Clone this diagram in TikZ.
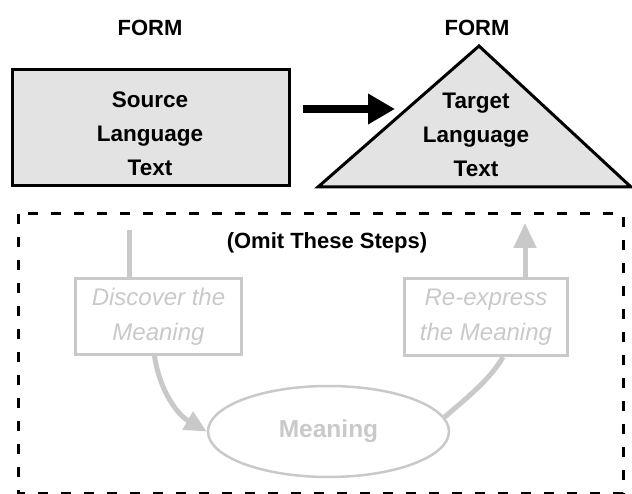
\documentclass[tikz,border=0pt]{standalone}
\usepackage{fontspec}
\setmainfont{Liberation Sans}
\usetikzlibrary{arrows.meta,shapes.geometric}
\newcommand{\formfill}{black!11}
\newcommand{\skipped}{black!21}
\tikzset{
  formlabel/.style = {font=\fontsize{22}{34}\selectfont\bfseries},
  formtext/.style = {align=center, font=\fontsize{22.5}{34}\selectfont\bfseries},
  stepbox/.style = {draw=\skipped, line width=3pt, text=\skipped, align=center,
                    font=\fontsize{24}{35}\selectfont\itshape},
  skiparrow/.style = {draw=\skipped, line width=5pt},
  omitbox/.style = {draw, line width=3pt, dash pattern=on 10pt off 13pt}
}

\begin{document}
\begin{tikzpicture}[x=1pt, y=-1pt]
        \useasboundingbox (0,0) rectangle (632,494);
        % source side
        \node[formlabel] (formL) at (150,28) {FORM};
        \node[draw, line width=3pt, fill=\formfill, minimum width=277pt, minimum height=116pt] (src) at (150.5,128) {};
        \node[formtext] (srctext) at (150,134) {Source\\Language\\Text};
        % target side
        \coordinate (apex) at (479,46);
        \coordinate (baseL) at (318,187);
        \coordinate (baseR) at (631,187);
        \filldraw[fill=\formfill, line width=3pt, line join=miter] (apex) -- (baseL) -- (baseR) -- cycle;
        \node[formlabel] (formR) at (477,28) {FORM};
        \node[formtext] (tgt) at (476,135) {Target\\Language\\Text};
        \coordinate (arrS) at (303,109);
        \coordinate (arrE) at (395,109);
        \draw[line width=8pt, -{Triangle[length=27pt, width=29pt]}] (arrS) -- (arrE);
        % the steps that are left out
        \draw[omitbox] (18,214) rectangle (623,493);
        \node[formlabel] (omit) at (327,243) {(Omit These Steps)};
        \node[stepbox, minimum width=166pt, minimum height=76pt] (discover) at (158.5,316.5) {Discover the\\Meaning};
        \node[stepbox, minimum width=163pt, minimum height=77pt] (reexpress) at (486,317) {Re-express\\the Meaning};
        \node[ellipse, draw=\skipped, line width=2.5pt, minimum width=241pt, minimum height=91pt,
              text=\skipped, font=\fontsize{24.5}{30}\selectfont\bfseries] (meaning) at (328.5,431.5) {Meaning};
        \coordinate (in) at (129,230);
        \coordinate (out) at (525,223);
        \draw[skiparrow] (in) -- (in |- discover.north);
        \draw[skiparrow, -{Triangle[length=22pt, width=20pt]}] ([xshift=-4pt]discover.south)
            .. controls (160,392) and (178,415) .. (meaning.west);
        \draw[skiparrow] (meaning.7) .. controls (463,401) and (490,380) .. ([xshift=17pt]reexpress.south);
        \draw[skiparrow, -{Triangle[length=25pt, width=22pt]}] (out |- reexpress.north) -- (out);
    \end{tikzpicture}
\end{document}
